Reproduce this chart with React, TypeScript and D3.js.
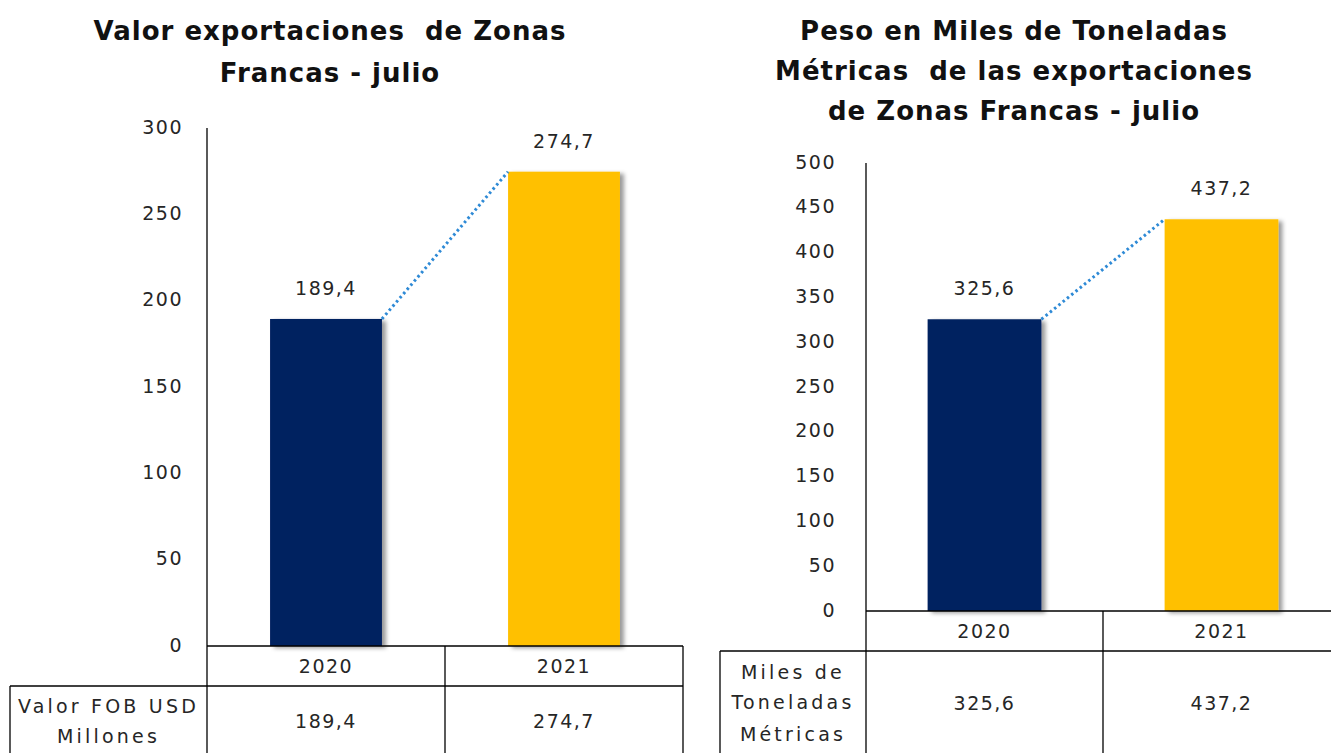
import React from "react";
import * as d3 from "d3";

const years = ["2020", "2021"];
const valorFOB = [189.4, 274.7];
const pesoMilesTon = [325.6, 437.2];
const leftTicks = [0, 50, 100, 150, 200, 250, 300];
const rightTicks = [0, 50, 100, 150, 200, 250, 300, 350, 400, 450, 500];
const leftTitle = ["Valor exportaciones  de Zonas", "Francas - julio"];
const rightTitle = ["Peso en Miles de Toneladas", "Métricas  de las exportaciones", "de Zonas Francas - julio"];
const leftRowLabel = ["Valor FOB USD", "Millones"];
const rightRowLabel = ["Miles de", "Toneladas", "Métricas"];

const COLORS = ["#002060", "#FFC000"];
const LINE_BLUE = "#2E8AD6";
const FONT = "'DejaVu Sans', Verdana, sans-serif";
const TEXT = "#262626";

const loc = d3.formatLocale({ decimal: ",", thousands: ".", grouping: [3], currency: ["", ""] });
const fmt = loc.format(".1f");

type PanelProps = {
  values: number[];
  ticks: number[];
  max: number;
  axisX: number;
  right: number;
  yTop: number;
  yZero: number;
  tickRight: number;
  labelLeft: number;
  rowLabel: string[];
  rowLabelY: number[];
  title: string[];
  titleX: number;
  titleY: number[];
  barFrac: number;
};

const numStyle = { fontFamily: FONT, fontSize: 19, fill: TEXT, letterSpacing: 1.5 } as const;

function Panel(p: PanelProps) {
  const x = d3.scaleBand<string>().domain(years).range([p.axisX, p.right]).padding(0);
  const y = d3.scaleLinear().domain([0, p.max]).range([p.yZero, p.yTop]);
  const bw = x.bandwidth() * p.barFrac;
  const row1Bottom = p.yZero + 40;
  const bottom = 753;
  const pts = years.map((yr, i) => ({ yr, v: p.values[i] }));
  const barLeft = (yr: string) => (x(yr) as number) + (x.bandwidth() - bw) / 2;
  const line = d3
    .line<[number, number]>()
    .x((d) => d[0])
    .y((d) => d[1]);
  const linePts: [number, number][] = [
    [barLeft(years[0]) + bw, y(p.values[0])],
    [barLeft(years[1]), y(p.values[1])],
  ];
  return (
    <g>
      {p.title.map((t, i) => (
        <text key={t} x={p.titleX} y={p.titleY[i]} textAnchor="middle" fontFamily={FONT} fontWeight="bold" fontSize={26} letterSpacing={1} fill="#111" style={{ whiteSpace: "pre" }}>
          {t}
        </text>
      ))}
      {p.ticks.map((t) => (
        <text key={t} x={p.tickRight} y={y(t)} textAnchor="end" dominantBaseline="middle" {...numStyle}>
          {t}
        </text>
      ))}
      {pts.map((d, i) => (
        <rect key={d.yr} x={barLeft(d.yr)} y={y(d.v)} width={bw} height={p.yZero - y(d.v)} fill={COLORS[i]} filter="url(#shadow)" />
      ))}
      <path d={line(linePts) || ""} fill="none" stroke={LINE_BLUE} strokeWidth={3} strokeDasharray="2.5 3" />
      {pts.map((d) => (
        <text key={"l" + d.yr} x={(x(d.yr) as number) + x.bandwidth() / 2} y={y(d.v) - 24} textAnchor="middle" {...numStyle}>
          {fmt(d.v)}
        </text>
      ))}
      <g stroke="#000" strokeWidth={1.3} fill="none">
        <line x1={p.axisX} x2={p.axisX} y1={p.yTop} y2={bottom} />
        <line x1={p.axisX} x2={p.right} y1={p.yZero} y2={p.yZero} />
        <line x1={p.labelLeft} x2={p.right} y1={row1Bottom} y2={row1Bottom} />
        <line x1={p.labelLeft} x2={p.labelLeft} y1={row1Bottom} y2={bottom} />
        {years.map((yr) => (
          <line key={yr} x1={(x(yr) as number) + x.bandwidth()} x2={(x(yr) as number) + x.bandwidth()} y1={p.yZero} y2={bottom} />
        ))}
      </g>
      {pts.map((d) => (
        <g key={"t" + d.yr}>
          <text x={(x(d.yr) as number) + x.bandwidth() / 2} y={(p.yZero + row1Bottom) / 2 + 1} textAnchor="middle" dominantBaseline="middle" {...numStyle}>
            {d.yr}
          </text>
          <text x={(x(d.yr) as number) + x.bandwidth() / 2} y={(p.rowLabelY[0] + p.rowLabelY[p.rowLabelY.length - 1]) / 2} textAnchor="middle" dominantBaseline="middle" {...numStyle}>
            {fmt(d.v)}
          </text>
        </g>
      ))}
      {p.rowLabel.map((t, i) => (
        <text key={t} x={(p.labelLeft + p.axisX) / 2} y={p.rowLabelY[i]} textAnchor="middle" dominantBaseline="middle" fontFamily={FONT} fontSize={19} fill={TEXT} letterSpacing={3.2}>
          {t}
        </text>
      ))}
    </g>
  );
}

export default function App() {
  return (
    <svg width={1331} height={753} style={{ position: "absolute", left: 0, top: 0, background: "#fff" }}>
      <defs>
        <filter id="shadow" x="-20%" y="-20%" width="150%" height="140%">
          <feDropShadow dx={4} dy={2} stdDeviation={2} floodColor="#000" floodOpacity={0.4} />
        </filter>
      </defs>
      <rect width={1331} height={753} fill="#fff" />
      <Panel
        values={valorFOB}
        ticks={leftTicks}
        max={300}
        axisX={207}
        right={683}
        yTop={128}
        yZero={646}
        tickRight={183}
        labelLeft={10}
        rowLabel={leftRowLabel}
        rowLabelY={[707, 737]}
        title={leftTitle}
        titleX={330}
        titleY={[40, 82]}
        barFrac={0.47}
      />
      <Panel
        values={pesoMilesTon}
        ticks={rightTicks}
        max={500}
        axisX={866}
        right={1340}
        yTop={163}
        yZero={611}
        tickRight={836}
        labelLeft={720}
        rowLabel={rightRowLabel}
        rowLabelY={[673, 703, 735]}
        title={rightTitle}
        titleX={1014}
        titleY={[40, 80, 120]}
        barFrac={0.48}
      />
    </svg>
  );
}
